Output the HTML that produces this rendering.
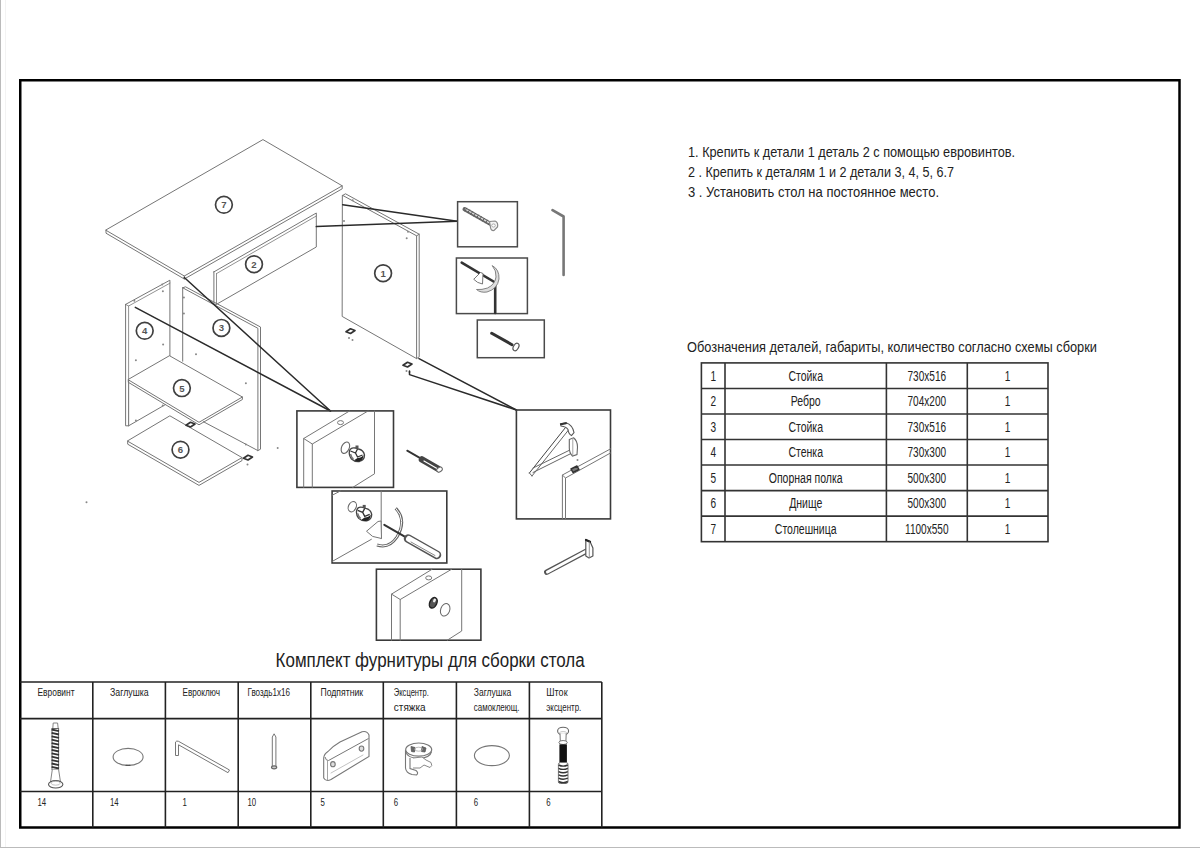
<!DOCTYPE html>
<html><head><meta charset="utf-8">
<style>
html,body{margin:0;padding:0;background:#fff;width:1200px;height:848px;overflow:hidden}
svg{display:block}
text{font-family:"Liberation Sans",sans-serif;fill:#222}
</style></head><body>
<svg width="1200" height="848" viewBox="0 0 1200 848">
<rect x="0" y="0" width="1" height="848" fill="#bbb"/>
<rect x="5" y="0" width="1" height="848" fill="#f3f3f3"/>
<rect x="0" y="847" width="1200" height="1" fill="#bbb"/>
<rect x="20.25" y="80.25" width="1159.25" height="747.25" fill="none" stroke="#000" stroke-width="2.5"/>

<text x="688" y="156.5" font-size="14.5" textLength="327" lengthAdjust="spacingAndGlyphs">1. Крепить к детали 1 деталь 2 с помощью евровинтов.</text>
<text x="688" y="176.7" font-size="14.5" textLength="266" lengthAdjust="spacingAndGlyphs">2 . Крепить к деталям 1 и 2 детали 3, 4, 5, 6.7</text>
<text x="688" y="197" font-size="14.5" textLength="251" lengthAdjust="spacingAndGlyphs">3 . Установить стол на постоянное место.</text>
<text x="687" y="352" font-size="14.5" textLength="410" lengthAdjust="spacingAndGlyphs">Обозначения деталей, габариты, количество согласно схемы сборки</text>
<g stroke="#333" stroke-width="1.6" fill="none">
<rect x="701.4" y="362.9" width="346.60" height="178.78"/>
<line x1="725" y1="362.9" x2="725" y2="541.68"/>
<line x1="886.4" y1="362.9" x2="886.4" y2="541.68"/>
<line x1="967.3" y1="362.9" x2="967.3" y2="541.68"/>
<line x1="701.4" y1="388.44" x2="1048" y2="388.44"/>
<line x1="701.4" y1="413.98" x2="1048" y2="413.98"/>
<line x1="701.4" y1="439.52" x2="1048" y2="439.52"/>
<line x1="701.4" y1="465.06" x2="1048" y2="465.06"/>
<line x1="701.4" y1="490.60" x2="1048" y2="490.60"/>
<line x1="701.4" y1="516.14" x2="1048" y2="516.14"/>
</g>
<text x="713.2" y="380.5" font-size="14" textLength="5.61" lengthAdjust="spacingAndGlyphs" text-anchor="middle">1</text>
<text x="805.7" y="380.5" font-size="14" textLength="34.64" lengthAdjust="spacingAndGlyphs" text-anchor="middle">Стойка</text>
<text x="926.8" y="380.5" font-size="14" textLength="38.67" lengthAdjust="spacingAndGlyphs" text-anchor="middle">730x516</text>
<text x="1007.6" y="380.5" font-size="14" textLength="5.61" lengthAdjust="spacingAndGlyphs" text-anchor="middle">1</text>
<text x="713.2" y="406.0" font-size="14" textLength="5.61" lengthAdjust="spacingAndGlyphs" text-anchor="middle">2</text>
<text x="805.7" y="406.0" font-size="14" textLength="29.96" lengthAdjust="spacingAndGlyphs" text-anchor="middle">Ребро</text>
<text x="926.8" y="406.0" font-size="14" textLength="38.67" lengthAdjust="spacingAndGlyphs" text-anchor="middle">704x200</text>
<text x="1007.6" y="406.0" font-size="14" textLength="5.61" lengthAdjust="spacingAndGlyphs" text-anchor="middle">1</text>
<text x="713.2" y="431.6" font-size="14" textLength="5.61" lengthAdjust="spacingAndGlyphs" text-anchor="middle">3</text>
<text x="805.7" y="431.6" font-size="14" textLength="34.64" lengthAdjust="spacingAndGlyphs" text-anchor="middle">Стойка</text>
<text x="926.8" y="431.6" font-size="14" textLength="38.67" lengthAdjust="spacingAndGlyphs" text-anchor="middle">730x516</text>
<text x="1007.6" y="431.6" font-size="14" textLength="5.61" lengthAdjust="spacingAndGlyphs" text-anchor="middle">1</text>
<text x="713.2" y="457.1" font-size="14" textLength="5.61" lengthAdjust="spacingAndGlyphs" text-anchor="middle">4</text>
<text x="805.7" y="457.1" font-size="14" textLength="34.57" lengthAdjust="spacingAndGlyphs" text-anchor="middle">Стенка</text>
<text x="926.8" y="457.1" font-size="14" textLength="38.67" lengthAdjust="spacingAndGlyphs" text-anchor="middle">730x300</text>
<text x="1007.6" y="457.1" font-size="14" textLength="5.61" lengthAdjust="spacingAndGlyphs" text-anchor="middle">1</text>
<text x="713.2" y="482.7" font-size="14" textLength="5.61" lengthAdjust="spacingAndGlyphs" text-anchor="middle">5</text>
<text x="805.7" y="482.7" font-size="14" textLength="73.86" lengthAdjust="spacingAndGlyphs" text-anchor="middle">Опорная полка</text>
<text x="926.8" y="482.7" font-size="14" textLength="38.67" lengthAdjust="spacingAndGlyphs" text-anchor="middle">500x300</text>
<text x="1007.6" y="482.7" font-size="14" textLength="5.61" lengthAdjust="spacingAndGlyphs" text-anchor="middle">1</text>
<text x="713.2" y="508.2" font-size="14" textLength="5.61" lengthAdjust="spacingAndGlyphs" text-anchor="middle">6</text>
<text x="805.7" y="508.2" font-size="14" textLength="33.13" lengthAdjust="spacingAndGlyphs" text-anchor="middle">Днище</text>
<text x="926.8" y="508.2" font-size="14" textLength="38.67" lengthAdjust="spacingAndGlyphs" text-anchor="middle">500x300</text>
<text x="1007.6" y="508.2" font-size="14" textLength="5.61" lengthAdjust="spacingAndGlyphs" text-anchor="middle">1</text>
<text x="713.2" y="533.7" font-size="14" textLength="5.61" lengthAdjust="spacingAndGlyphs" text-anchor="middle">7</text>
<text x="805.7" y="533.7" font-size="14" textLength="61.79" lengthAdjust="spacingAndGlyphs" text-anchor="middle">Столешница</text>
<text x="926.8" y="533.7" font-size="14" textLength="43.53" lengthAdjust="spacingAndGlyphs" text-anchor="middle">1100x550</text>
<text x="1007.6" y="533.7" font-size="14" textLength="5.61" lengthAdjust="spacingAndGlyphs" text-anchor="middle">1</text>
<path d="M263.3,139.8 L342.2,185.8 L184.3,276.0 L106.0,230.3 Z" stroke="#767676" stroke-width="1" fill="none" stroke-linejoin="round" stroke-linecap="round" />
<path d="M106.0,230.3 L106.0,233.2 L184.3,279.0 L342.2,188.8 L342.2,185.8" stroke="#767676" stroke-width="1" fill="none" stroke-linejoin="round" stroke-linecap="round" />
<line x1="184.3" y1="276.0" x2="184.3" y2="279.0" stroke="#767676" stroke-width="1" stroke-linecap="round"/>
<circle cx="223.9" cy="204.8" r="8.4" stroke="#404040" stroke-width="1.7" fill="none"/>
<text x="223.9" y="208.3" font-size="9.6" font-weight="bold" text-anchor="middle" style="fill:#555">7</text>
<path d="M213.9,271.9 L316.3,213.0 L316.3,247.0 L216.5,304.3 L213.9,304.3 L213.9,271.9 Z" stroke="#767676" stroke-width="1" fill="none" stroke-linejoin="round" stroke-linecap="round" />
<line x1="216.5" y1="273.6" x2="316.3" y2="216.0" stroke="#767676" stroke-width="0.8" stroke-linecap="round"/>
<line x1="216.5" y1="273.6" x2="216.5" y2="304.3" stroke="#767676" stroke-width="0.8" stroke-linecap="round"/>
<circle cx="254.0" cy="264.2" r="8.4" stroke="#404040" stroke-width="1.7" fill="none"/>
<text x="254.0" y="267.7" font-size="9.6" font-weight="bold" text-anchor="middle" style="fill:#555">2</text>
<path d="M342.7,195.4 L416.6,235.8 L416.6,358.6 L342.5,316.6 Z" stroke="#767676" stroke-width="1" fill="none" stroke-linejoin="round" stroke-linecap="round" />
<path d="M342.7,195.4 L345.5,193.8 L419.2,234.2 L419.2,356.8 L416.6,358.6" stroke="#767676" stroke-width="1" fill="none" stroke-linejoin="round" stroke-linecap="round" />
<line x1="416.6" y1="235.8" x2="419.2" y2="234.2" stroke="#767676" stroke-width="1" stroke-linecap="round"/>
<circle cx="383.1" cy="273.2" r="8.4" stroke="#404040" stroke-width="1.7" fill="none"/>
<text x="383.1" y="276.7" font-size="9.6" font-weight="bold" text-anchor="middle" style="fill:#555">1</text>
<circle cx="352.7" cy="200.3" r="1" fill="#888"/>
<circle cx="406.7" cy="238.3" r="1" fill="#888"/>
<circle cx="344.0" cy="221.0" r="1" fill="#888"/>
<circle cx="408.0" cy="231.7" r="1" fill="#888"/>
<path d="M346.0,331.8 L350.5,328.8 L355.0,330.5 L350.5,333.5 Z" stroke="#333" stroke-width="1.7" fill="#fff" stroke-linejoin="round" stroke-linecap="round" />
<path d="M403.0,365.3 L407.5,362.3 L412.0,364.0 L407.5,367.0 Z" stroke="#333" stroke-width="1.7" fill="#fff" stroke-linejoin="round" stroke-linecap="round" />
<circle cx="349.0" cy="338.0" r="1" fill="#888"/>
<circle cx="352.5" cy="340.0" r="1" fill="#888"/>
<circle cx="406.5" cy="371.0" r="1" fill="#888"/>
<circle cx="409.5" cy="372.0" r="1" fill="#888"/>
<path d="M125.6,304.4 L169.9,280.2 L169.9,355.9" stroke="#767676" stroke-width="1" fill="none" stroke-linejoin="round" stroke-linecap="round" />
<path d="M125.6,304.4 L125.6,425.8 L128.6,425.8 L165.4,404.6" stroke="#767676" stroke-width="1" fill="none" stroke-linejoin="round" stroke-linecap="round" />
<path d="M125.6,304.4 L128.6,306.0 L169.9,283.2" stroke="#767676" stroke-width="0.8" fill="none" stroke-linejoin="round" stroke-linecap="round" />
<line x1="128.6" y1="306.0" x2="128.6" y2="425.8" stroke="#767676" stroke-width="0.8" stroke-linecap="round"/>
<line x1="128.6" y1="425.8" x2="128.6" y2="379.8" stroke="#767676" stroke-width="0.8" stroke-linecap="round"/>
<circle cx="144.7" cy="330.8" r="8.4" stroke="#404040" stroke-width="1.7" fill="none"/>
<text x="144.7" y="334.3" font-size="9.6" font-weight="bold" text-anchor="middle" style="fill:#555">4</text>
<circle cx="162.2" cy="284.6" r="1" fill="#888"/>
<circle cx="134.3" cy="300.7" r="1" fill="#888"/>
<circle cx="162.9" cy="291.2" r="1" fill="#888"/>
<circle cx="163.1" cy="344.5" r="1" fill="#888"/>
<circle cx="135.9" cy="360.3" r="1" fill="#888"/>
<circle cx="162.8" cy="405.5" r="1" fill="#888"/>
<circle cx="135.9" cy="420.5" r="1" fill="#888"/>
<path d="M182.7,287.8 L257.9,328.3 L257.9,450.6 L203.4,421.7" stroke="#767676" stroke-width="1" fill="none" stroke-linejoin="round" stroke-linecap="round" />
<path d="M182.7,287.8 L182.7,361.2" stroke="#767676" stroke-width="1" fill="none" stroke-linejoin="round" stroke-linecap="round" />
<path d="M182.7,287.8 L185.5,286.8 L260.5,327.0 L260.5,449.2 L257.9,450.6" stroke="#767676" stroke-width="1" fill="none" stroke-linejoin="round" stroke-linecap="round" />
<circle cx="221.4" cy="327.9" r="8.4" stroke="#404040" stroke-width="1.7" fill="none"/>
<text x="221.4" y="331.4" font-size="9.6" font-weight="bold" text-anchor="middle" style="fill:#555">3</text>
<circle cx="183.9" cy="297.4" r="1" fill="#888"/>
<circle cx="183.9" cy="313.4" r="1" fill="#888"/>
<circle cx="196.0" cy="354.2" r="1" fill="#888"/>
<circle cx="245.9" cy="383.3" r="1" fill="#888"/>
<circle cx="245.9" cy="444.4" r="1" fill="#888"/>
<path d="M169.8,355.9 L242.4,397.0 L199.0,422.3 L128.3,379.8 Z" stroke="#767676" stroke-width="1" fill="#fff" stroke-linejoin="round" stroke-linecap="round" />
<path d="M128.3,379.8 L128.3,382.3 L199.0,424.8 L242.4,399.5 L242.4,397.0" stroke="#767676" stroke-width="1" fill="none" stroke-linejoin="round" stroke-linecap="round" />
<circle cx="181.9" cy="388.1" r="8.4" stroke="#404040" stroke-width="1.7" fill="none"/>
<text x="181.9" y="391.6" font-size="9.6" font-weight="bold" text-anchor="middle" style="fill:#555">5</text>
<path d="M170.2,416.0 L242.0,457.6 L199.0,482.4 L127.7,441.2 Z" stroke="#767676" stroke-width="1" fill="#fff" stroke-linejoin="round" stroke-linecap="round" />
<path d="M127.7,441.2 L127.7,444.2 L199.0,485.4 L242.0,460.6 L242.0,457.6" stroke="#767676" stroke-width="1" fill="none" stroke-linejoin="round" stroke-linecap="round" />
<circle cx="180.5" cy="449.7" r="8.4" stroke="#404040" stroke-width="1.7" fill="none"/>
<text x="180.5" y="453.2" font-size="9.6" font-weight="bold" text-anchor="middle" style="fill:#555">6</text>
<path d="M186.0,425.3 L190.5,422.3 L195.0,424.0 L190.5,427.0 Z" stroke="#333" stroke-width="1.7" fill="#fff" stroke-linejoin="round" stroke-linecap="round" />
<path d="M243.5,458.3 L248.0,455.3 L252.5,457.0 L248.0,460.0 Z" stroke="#333" stroke-width="1.7" fill="#fff" stroke-linejoin="round" stroke-linecap="round" />
<circle cx="247.5" cy="464.5" r="1" fill="#888"/>
<circle cx="277.7" cy="448.0" r="1" fill="#888"/>
<circle cx="86.5" cy="502.3" r="1" fill="#888"/>
<line x1="184.3" y1="277.5" x2="330.5" y2="411.0" stroke="#2a2a2a" stroke-width="1.5" stroke-linecap="round"/>
<line x1="135.3" y1="307.3" x2="330.5" y2="411.0" stroke="#2a2a2a" stroke-width="1.5" stroke-linecap="round"/>
<line x1="342.7" y1="204.7" x2="457.3" y2="221.3" stroke="#2a2a2a" stroke-width="1.5" stroke-linecap="round"/>
<line x1="316.3" y1="226.6" x2="457.3" y2="221.3" stroke="#2a2a2a" stroke-width="1.5" stroke-linecap="round"/>
<line x1="419.0" y1="358.6" x2="516.4" y2="410.0" stroke="#2a2a2a" stroke-width="1.5" stroke-linecap="round"/>
<path d="M409.5,371.0 L409.5,374.6 L516.4,410.0" stroke="#2a2a2a" stroke-width="1.5" fill="none" stroke-linejoin="round" stroke-linecap="round" />
<path d="M552.5,210.1 L563.6,216.5 L563.6,275.0" stroke="#777" stroke-width="2.6" fill="none" stroke-linejoin="round" stroke-linecap="round" />
<rect x="457.6" y="201.7" width="59.8" height="45.1" fill="none" stroke="#4a4a4a" stroke-width="1.5"/>
<line x1="464.6" y1="209.2" x2="492.5" y2="225.0" stroke="#666" stroke-width="4.2" stroke-linecap="round"/>
<line x1="465.5" y1="209.2" x2="492.0" y2="224.4" stroke="#ddd" stroke-width="1.3" stroke-linecap="round"/>
<path d="M464.7,211.3 L466.9,207.9" stroke="#555" stroke-width="0.9"/>
<path d="M467.6,213.0 L469.8,209.6" stroke="#555" stroke-width="0.9"/>
<path d="M470.6,214.7 L472.8,211.3" stroke="#555" stroke-width="0.9"/>
<path d="M473.5,216.4 L475.7,213.0" stroke="#555" stroke-width="0.9"/>
<path d="M476.5,218.1 L478.7,214.7" stroke="#555" stroke-width="0.9"/>
<path d="M479.4,219.8 L481.6,216.4" stroke="#555" stroke-width="0.9"/>
<path d="M482.3,221.5 L484.5,218.1" stroke="#555" stroke-width="0.9"/>
<path d="M485.3,223.2 L487.5,219.8" stroke="#555" stroke-width="0.9"/>
<path d="M488.2,224.9 L490.4,221.5" stroke="#555" stroke-width="0.9"/>
<path d="M489.5,221.5 L495,221 Q498.5,222.5 497.5,227 L494,230.5 Q491,231 490.5,227.5 Z" fill="#f4f4f4" stroke="#888" stroke-width="1.2"/>
<ellipse cx="493.5" cy="225.5" rx="1.8" ry="1.6" transform="rotate(0 493.5 225.5)" stroke="#999" stroke-width="0.8" fill="#fff"/>
<rect x="456.4" y="258.0" width="71.0" height="55.6" fill="none" stroke="#4a4a4a" stroke-width="1.5"/>
<path d="M461.7,262.7 L495.2,282.5 L495.2,313.0" stroke="#333" stroke-width="2.6" fill="none" stroke-linejoin="round" stroke-linecap="round" />
<path d="M492.2,265.6 Q499.5,269.5 499,279 Q497.5,289 487,292 Q480.5,293 476.5,289.5 Q482,290 487.5,288 Q495,284.5 496,277 Q496.5,270.5 492.2,265.6 Z" fill="#ddd" stroke="#777" stroke-width="0.9"/>
<path d="M474.0,279.0 L480.5,272.5 L483.0,273.5 L482.5,284.0 L478.0,282.5 Z" stroke="#777" stroke-width="1" fill="#fff" stroke-linejoin="round" stroke-linecap="round" />
<rect x="477.3" y="320.0" width="67.0" height="37.7" fill="none" stroke="#4a4a4a" stroke-width="1.5"/>
<line x1="491.7" y1="333.3" x2="512.0" y2="344.7" stroke="#333" stroke-width="3" stroke-linecap="round"/>
<ellipse cx="516.0" cy="347.0" rx="2.5" ry="4" transform="rotate(30 516.0 347.0)" stroke="#555" stroke-width="1.2" fill="none"/>
<rect x="296.9" y="410.9" width="96.6" height="76.5" fill="none" stroke="#3a3a3a" stroke-width="1.6"/>
<path d="M303.7,487.4 L303.7,438.5 L349.5,411.0" stroke="#767676" stroke-width="1" fill="none" stroke-linejoin="round" stroke-linecap="round" />
<path d="M312.3,487.4 L312.3,444.0 L368.0,411.0" stroke="#767676" stroke-width="1" fill="none" stroke-linejoin="round" stroke-linecap="round" />
<line x1="303.7" y1="438.5" x2="312.3" y2="444.0" stroke="#767676" stroke-width="1" stroke-linecap="round"/>
<path d="M374.5,411.0 L374.5,473.8 L352.8,487.4" stroke="#767676" stroke-width="1" fill="none" stroke-linejoin="round" stroke-linecap="round" />
<ellipse cx="340.5" cy="422.6" rx="3" ry="2" transform="rotate(0 340.5 422.6)" stroke="#777" stroke-width="1" fill="none"/>
<ellipse cx="345.4" cy="447.7" rx="3.8" ry="6" transform="rotate(25 345.4 447.7)" stroke="#666" stroke-width="1.1" fill="none"/>
<g transform="translate(356.5 454) scale(1.0)"><path d="M-7,-3 Q-6,-7 -1,-6 L2,-5 Q7,-4 8,1 Q8,6 3,7.5 Q-2,8 -5,5 Q-8,1 -7,-3 Z" fill="#fff" stroke="#444" stroke-width="1.3"/><path d="M-6,-3 L-1,-1 L1,-5 M-1,-1 L1,3 L6,1" fill="none" stroke="#333" stroke-width="1.3"/><path d="M1,4 Q5,4 7,1 Q7,6 3,7.3 Q-1,8 -2,6 Z" fill="#222"/><path d="M-6,0 Q-5,4 -3,5" fill="none" stroke="#777" stroke-width="1.5"/><rect x="-1" y="-8.5" width="3" height="3" fill="#555"/></g>
<rect x="516.4" y="410.0" width="94.1" height="108.9" fill="none" stroke="#3a3a3a" stroke-width="1.6"/>
<path d="M562.4,518.9 L562.4,475.0 L610.5,448.9" stroke="#767676" stroke-width="1" fill="none" stroke-linejoin="round" stroke-linecap="round" />
<path d="M565.5,518.9 L565.5,478.0 L610.5,453.0" stroke="#767676" stroke-width="1" fill="none" stroke-linejoin="round" stroke-linecap="round" />
<line x1="562.4" y1="475.0" x2="565.5" y2="478.0" stroke="#767676" stroke-width="1" stroke-linecap="round"/>
<path d="M571.0,469.0 L577.0,466.0 L579.0,469.5 L573.0,472.5 Z" stroke="#333" stroke-width="1.5" fill="#777" stroke-linejoin="round" stroke-linecap="round" />
<path d="M529.4,473.0 L565.5,427.5" stroke="#444" stroke-width="1" fill="none" stroke-linejoin="round" stroke-linecap="round" />
<path d="M532.0,476.0 L568.5,430.0" stroke="#666" stroke-width="1" fill="none" stroke-linejoin="round" stroke-linecap="round" />
<path d="M529.4,473.0 L532.0,476.0" stroke="#666" stroke-width="1" fill="none" stroke-linejoin="round" stroke-linecap="round" />
<path d="M560.5,423.8 L566,422.8 Q572.5,425 574,432.5 L571.5,435.5 Q568.5,434 568,429.5 Q566,426.5 561,426 Z" fill="#fff" stroke="#555" stroke-width="1.1"/>
<line x1="561.0" y1="424.2" x2="566.0" y2="423.2" stroke="#333" stroke-width="2" stroke-linecap="round"/>
<path d="M533.0,468.0 L572.0,449.0" stroke="#666" stroke-width="1" fill="none" stroke-linejoin="round" stroke-linecap="round" />
<path d="M533.0,472.5 L572.0,453.0" stroke="#666" stroke-width="1" fill="none" stroke-linejoin="round" stroke-linecap="round" />
<path d="M569.3,439.5 L573.5,437.8 Q577.5,441 577.5,447 L577,454.5 L572.5,456 Q569.3,453 569.3,448 Z" fill="#fff" stroke="#666" stroke-width="1.1"/>
<line x1="572.8" y1="438.5" x2="572.8" y2="455.5" stroke="#999" stroke-width="0.9" stroke-linecap="round"/>
<circle cx="577.5" cy="460.0" r="1" fill="#888"/>
<line x1="407.2" y1="450.6" x2="421.5" y2="458.9" stroke="#333" stroke-width="1.8" stroke-linecap="round"/>
<line x1="422.0" y1="459.5" x2="438.5" y2="469.0" stroke="#444" stroke-width="6.5" stroke-linecap="round"/>
<line x1="424.0" y1="461.0" x2="437.0" y2="468.5" stroke="#fff" stroke-width="1.2" stroke-linecap="round"/>
<ellipse cx="439.5" cy="469.6" rx="2.2" ry="3" transform="rotate(60 439.5 469.6)" stroke="#666" stroke-width="1" fill="#fff"/>
<rect x="332.1" y="491.0" width="114.7" height="72.0" fill="none" stroke="#3a3a3a" stroke-width="1.6"/>
<line x1="381.2" y1="491.0" x2="381.2" y2="538.7" stroke="#767676" stroke-width="1" stroke-linecap="round"/>
<line x1="332.1" y1="561.5" x2="371.4" y2="539.3" stroke="#767676" stroke-width="1" stroke-linecap="round"/>
<line x1="332.1" y1="495.3" x2="340.4" y2="491.0" stroke="#767676" stroke-width="1" stroke-linecap="round"/>
<ellipse cx="352.3" cy="506.7" rx="3.8" ry="5.4" transform="rotate(25 352.3 506.7)" stroke="#666" stroke-width="1.1" fill="none"/>
<g transform="translate(363.7 513.4) scale(1.0)"><path d="M-7,-3 Q-6,-7 -1,-6 L2,-5 Q7,-4 8,1 Q8,6 3,7.5 Q-2,8 -5,5 Q-8,1 -7,-3 Z" fill="#fff" stroke="#444" stroke-width="1.3"/><path d="M-6,-3 L-1,-1 L1,-5 M-1,-1 L1,3 L6,1" fill="none" stroke="#333" stroke-width="1.3"/><path d="M1,4 Q5,4 7,1 Q7,6 3,7.3 Q-1,8 -2,6 Z" fill="#222"/><path d="M-6,0 Q-5,4 -3,5" fill="none" stroke="#777" stroke-width="1.5"/><rect x="-1" y="-8.5" width="3" height="3" fill="#555"/></g>
<path d="M395.7,508.3 Q407,520 397,537 Q389,549 377,545" fill="none" stroke="#666" stroke-width="3"/>
<path d="M395.7,508.3 Q407,520 397,537 Q389,549 377,545" fill="none" stroke="#fff" stroke-width="1"/>
<path d="M366.8,531.0 L378.0,521.5 L381.0,521.0 L381.5,538.5 L373.0,536.5 Z" stroke="#777" stroke-width="1" fill="#fff" stroke-linejoin="round" stroke-linecap="round" />
<line x1="384.3" y1="524.8" x2="406.5" y2="537.7" stroke="#333" stroke-width="2" stroke-linecap="round"/>
<line x1="408.0" y1="538.5" x2="437.0" y2="555.0" stroke="#555" stroke-width="8.5" stroke-linecap="round"/>
<line x1="409.0" y1="539.0" x2="436.5" y2="554.5" stroke="#fff" stroke-width="6" stroke-linecap="round"/>
<line x1="411.0" y1="542.0" x2="435.0" y2="555.5" stroke="#888" stroke-width="1" stroke-linecap="round"/>
<rect x="376.4" y="569.2" width="104.5" height="71.0" fill="none" stroke="#3a3a3a" stroke-width="1.6"/>
<path d="M391.5,640.2 L391.5,594.1 L432.2,569.2" stroke="#767676" stroke-width="1" fill="none" stroke-linejoin="round" stroke-linecap="round" />
<path d="M400.2,640.2 L400.2,599.5 L451.7,569.2" stroke="#767676" stroke-width="1" fill="none" stroke-linejoin="round" stroke-linecap="round" />
<line x1="391.5" y1="594.1" x2="400.2" y2="599.5" stroke="#767676" stroke-width="1" stroke-linecap="round"/>
<path d="M461.7,569.2 L461.7,631.0 L447.3,640.2" stroke="#767676" stroke-width="1" fill="none" stroke-linejoin="round" stroke-linecap="round" />
<ellipse cx="428.7" cy="577.9" rx="3" ry="2" transform="rotate(0 428.7 577.9)" stroke="#777" stroke-width="1" fill="none"/>
<ellipse cx="433.3" cy="602.8" rx="3.5" ry="5.5" transform="rotate(25 433.3 602.8)" stroke="#222" stroke-width="1.5" fill="#555"/>
<ellipse cx="434.5" cy="600.5" rx="1.3" ry="2" transform="rotate(25 434.5 600.5)" stroke="none" stroke-width="0" fill="#eee"/>
<ellipse cx="445.2" cy="609.8" rx="4.5" ry="6.5" transform="rotate(20 445.2 609.8)" stroke="#666" stroke-width="1" fill="none"/>
<line x1="546.8" y1="572.1" x2="587.0" y2="550.9" stroke="#555" stroke-width="5.5" stroke-linecap="round"/>
<line x1="547.5" y1="572.0" x2="586.5" y2="551.0" stroke="#fff" stroke-width="3" stroke-linecap="round"/>
<path d="M585.8,539.7 L590.0,541.5 L592.9,548.0 L592.9,556.0 L589.0,558.0 L585.8,556.0 L585.8,539.7 Z" stroke="#555" stroke-width="1.2" fill="#fff" stroke-linejoin="round" stroke-linecap="round" />
<line x1="586.0" y1="540.0" x2="590.0" y2="541.8" stroke="#222" stroke-width="2.2" stroke-linecap="round"/>
<line x1="589.3" y1="542.0" x2="589.3" y2="557.5" stroke="#888" stroke-width="0.9" stroke-linecap="round"/>
<text x="275.6" y="667" font-size="20" textLength="309" lengthAdjust="spacingAndGlyphs">Комплект фурнитуры для сборки стола</text>
<g stroke="#222" stroke-width="1.6" fill="none">
<line x1="20" y1="682" x2="601.8" y2="682"/>
<line x1="20" y1="718.6" x2="601.8" y2="718.6"/>
<line x1="20" y1="791.5" x2="601.8" y2="791.5"/>
<line x1="92.8" y1="682" x2="92.8" y2="827.5"/>
<line x1="165.4" y1="682" x2="165.4" y2="827.5"/>
<line x1="238.2" y1="682" x2="238.2" y2="827.5"/>
<line x1="310.8" y1="682" x2="310.8" y2="827.5"/>
<line x1="383.3" y1="682" x2="383.3" y2="827.5"/>
<line x1="456.4" y1="682" x2="456.4" y2="827.5"/>
<line x1="529.4" y1="682" x2="529.4" y2="827.5"/>
<line x1="601.8" y1="682" x2="601.8" y2="827.5"/>
</g>
<text x="37.5" y="696.3" font-size="10" textLength="37" lengthAdjust="spacingAndGlyphs">Евровинт</text>
<text x="110" y="696.3" font-size="10" textLength="38.7" lengthAdjust="spacingAndGlyphs">Заглушка</text>
<text x="182.5" y="696.3" font-size="10" textLength="37.5" lengthAdjust="spacingAndGlyphs">Евроключ</text>
<text x="247.5" y="696.3" font-size="10" textLength="42.5" lengthAdjust="spacingAndGlyphs">Гвоздь1х16</text>
<text x="320.5" y="696.3" font-size="10" textLength="42.5" lengthAdjust="spacingAndGlyphs">Подпятник</text>
<text x="393.8" y="696.3" font-size="10" textLength="35" lengthAdjust="spacingAndGlyphs">Эксцентр.</text>
<text x="393.8" y="710.5" font-size="10">стяжка</text>
<text x="473.8" y="696.3" font-size="10" textLength="37.5" lengthAdjust="spacingAndGlyphs">Заглушка</text>
<text x="473.8" y="710.5" font-size="10" textLength="45.7" lengthAdjust="spacingAndGlyphs">самоклеющ.</text>
<text x="546.3" y="696.3" font-size="10" textLength="21.3" lengthAdjust="spacingAndGlyphs">Шток</text>
<text x="546.3" y="710.5" font-size="10" textLength="35" lengthAdjust="spacingAndGlyphs">эксцентр.</text>
<text x="37.5" y="805.5" font-size="10" textLength="8.68" lengthAdjust="spacingAndGlyphs">14</text>
<text x="110" y="805.5" font-size="10" textLength="8.68" lengthAdjust="spacingAndGlyphs">14</text>
<text x="182.5" y="805.5" font-size="10" textLength="4.34" lengthAdjust="spacingAndGlyphs">1</text>
<text x="247.5" y="805.5" font-size="10" textLength="8.68" lengthAdjust="spacingAndGlyphs">10</text>
<text x="320.5" y="805.5" font-size="10" textLength="4.34" lengthAdjust="spacingAndGlyphs">5</text>
<text x="393.8" y="805.5" font-size="10" textLength="4.34" lengthAdjust="spacingAndGlyphs">6</text>
<text x="473.8" y="805.5" font-size="10" textLength="4.34" lengthAdjust="spacingAndGlyphs">6</text>
<text x="546.3" y="805.5" font-size="10" textLength="4.34" lengthAdjust="spacingAndGlyphs">6</text>
<path d="M52.8,728.5 L53.2,723 L57.6,723 L58.2,728.5" fill="#fff" stroke="#777" stroke-width="0.9"/>
<rect x="52" y="728.5" width="6.6" height="41" fill="#fff" stroke="#666" stroke-width="1"/>
<path d="M51.6,729.5 L59,731.1" stroke="#333" stroke-width="1.8"/>
<path d="M51.6,732.9 L59,734.5" stroke="#333" stroke-width="1.8"/>
<path d="M51.6,736.3 L59,737.9" stroke="#333" stroke-width="1.8"/>
<path d="M51.6,739.7 L59,741.3" stroke="#333" stroke-width="1.8"/>
<path d="M51.6,743.1 L59,744.7" stroke="#333" stroke-width="1.8"/>
<path d="M51.6,746.5 L59,748.1" stroke="#333" stroke-width="1.8"/>
<path d="M51.6,749.9 L59,751.5" stroke="#333" stroke-width="1.8"/>
<path d="M51.6,753.3 L59,754.9" stroke="#333" stroke-width="1.8"/>
<path d="M51.6,756.7 L59,758.3" stroke="#333" stroke-width="1.8"/>
<path d="M51.6,760.1 L59,761.7" stroke="#333" stroke-width="1.8"/>
<path d="M51.6,763.5 L59,765.1" stroke="#333" stroke-width="1.8"/>
<path d="M51.6,766.9 L59,768.5" stroke="#333" stroke-width="1.8"/>
<path d="M52.3,769.5 L50.5,782 L60.5,782 L58.6,769.5" fill="#fff" stroke="#777" stroke-width="0.9"/>
<ellipse cx="55.7" cy="784.3" rx="7.2" ry="3.7" transform="rotate(0 55.7 784.3)" stroke="#555" stroke-width="1.1" fill="#fff"/>
<ellipse cx="55.7" cy="783.2" rx="4.5" ry="2" transform="rotate(0 55.7 783.2)" stroke="#aaa" stroke-width="0.7" fill="none"/>
<ellipse cx="128.1" cy="756.9" rx="15" ry="8.5" transform="rotate(0 128.1 756.9)" stroke="#777" stroke-width="1.1" fill="none"/>
<line x1="126.0" y1="765.3" x2="130.0" y2="765.3" stroke="#555" stroke-width="1.2" stroke-linecap="round"/>
<path d="M175.5,755.5 L175.5,742 Q176.5,740.5 178.5,741.3 L229.5,770 L228,772.7 L178.5,744.8 L178.5,755.5 Z" fill="#fff" stroke="#777" stroke-width="1"/>
<path d="M272.3,766 L272.3,737 L274.1,733.8 L275.9,737 L275.9,766" fill="#fff" stroke="#777" stroke-width="1"/>
<ellipse cx="274.1" cy="767.3" rx="2.6" ry="1.5" transform="rotate(0 274.1 767.3)" stroke="#666" stroke-width="1.2" fill="#ccc"/>
<path d="M323.7,778 L323.7,758 Q324,754 328,751.5 Q333,746 340,742 L362,731.8 Q367,730.5 369,735 L369,756.4 L331,779.5 Q326,782 323.7,778 Z" fill="#fff" stroke="#777" stroke-width="1.1"/>
<path d="M325,757 Q326,761 328.5,760.5 L368.5,738.5" fill="none" stroke="#777" stroke-width="1"/>
<line x1="327.5" y1="761.0" x2="327.5" y2="780.0" stroke="#999" stroke-width="0.9" stroke-linecap="round"/>
<line x1="331.0" y1="773.0" x2="363.0" y2="755.0" stroke="#bbb" stroke-width="0.9" stroke-linecap="round"/>
<ellipse cx="332.9" cy="764.2" rx="2.3" ry="2.6" transform="rotate(0 332.9 764.2)" stroke="#777" stroke-width="1.1" fill="#ddd"/>
<ellipse cx="361.5" cy="748.6" rx="2.3" ry="2.6" transform="rotate(0 361.5 748.6)" stroke="#777" stroke-width="1.1" fill="#ddd"/>
<path d="M405.5,750 L405.5,768 Q406,773 412,774.5 L416.5,775 Q419,773 416,770.5 L410,768.5 L410,758" fill="#fff" stroke="#777" stroke-width="1.1"/>
<ellipse cx="418.7" cy="749.6" rx="13" ry="6.6" transform="rotate(0 418.7 749.6)" stroke="#777" stroke-width="1.2" fill="#fff"/>
<path d="M405.8,751.5 Q407,758 418.7,758.5 Q430,758 431.6,751.5" fill="none" stroke="#777" stroke-width="1.1"/>
<path d="M411,746.5 L415,747.5 L414.5,752 L411.5,751.5 Z M422,746.5 L426,748 L425,752 L421.5,751.5 Z" fill="#666" stroke="#555" stroke-width="0.8"/>
<ellipse cx="418.7" cy="749.2" rx="4" ry="2" transform="rotate(0 418.7 749.2)" stroke="#aaa" stroke-width="0.8" fill="none"/>
<path d="M413,758 L422,757 L426,760 L431,762.5 Q433,766 430,767.5 L424,765 L420,768 L413,768" fill="#fff" stroke="#888" stroke-width="1"/>
<ellipse cx="491.9" cy="755.6" rx="17.5" ry="10" transform="rotate(0 491.9 755.6)" stroke="#777" stroke-width="1.1" fill="none"/>
<ellipse cx="563.1" cy="731.0" rx="5.5" ry="3.8" transform="rotate(0 563.1 731.0)" stroke="#666" stroke-width="1.1" fill="#fff"/>
<ellipse cx="563.1" cy="732.8" rx="3.5" ry="1.2" transform="rotate(0 563.1 732.8)" stroke="#aaa" stroke-width="0.7" fill="none"/>
<path d="M560,733.5 L560.3,741.5 L565.9,741.5 L566.2,733.5" fill="#fff" stroke="#777" stroke-width="1"/>
<ellipse cx="563.1" cy="742.5" rx="4.2" ry="2" transform="rotate(0 563.1 742.5)" stroke="#777" stroke-width="1" fill="#fff"/>
<rect x="559.4" y="744.4" width="7.5" height="18.3" fill="#111"/>
<rect x="558.4" y="762.5" width="9.6" height="21" rx="2" fill="#fff" stroke="#777" stroke-width="1"/>
<path d="M558.6,765.0 Q563,767.2 567.8,765.0" fill="none" stroke="#333" stroke-width="1.4"/>
<path d="M558.6,768.3 Q563,770.5 567.8,768.3" fill="none" stroke="#333" stroke-width="1.4"/>
<path d="M558.6,771.6 Q563,773.8 567.8,771.6" fill="none" stroke="#333" stroke-width="1.4"/>
<path d="M558.6,774.9 Q563,777.1 567.8,774.9" fill="none" stroke="#333" stroke-width="1.4"/>
<path d="M558.6,778.2 Q563,780.4 567.8,778.2" fill="none" stroke="#333" stroke-width="1.4"/>
<path d="M558.6,781.5 Q563,783.7 567.8,781.5" fill="none" stroke="#333" stroke-width="1.4"/>
</svg>
</body></html>
